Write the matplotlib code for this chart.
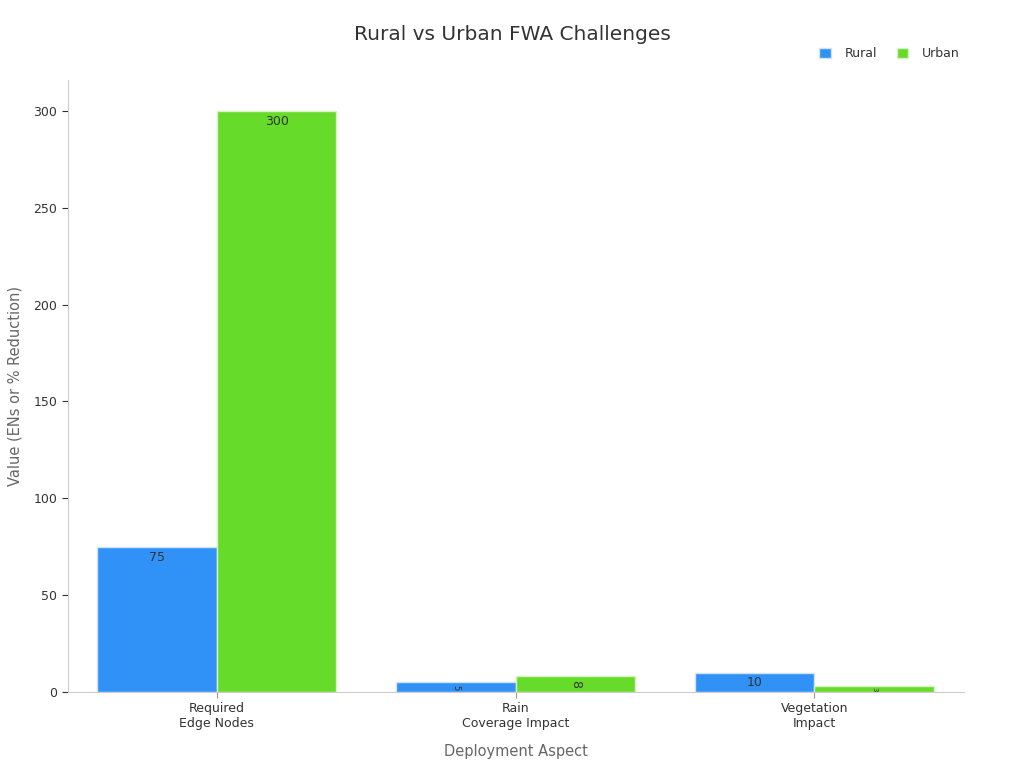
import numpy as np
import matplotlib.pyplot as plt

# data
categories = ['Required\nEdge Nodes', 'Rain\nCoverage Impact', 'Vegetation\nImpact']
rural = [75, 5, 10]
urban = [300, 8, 3]

blue = '#3091F7'
green = '#67DB29'

fig = plt.figure(figsize=(10.24, 7.68), dpi=100)
ax = fig.add_axes([0.066, 0.099, 0.875, 0.797])

x = np.arange(len(categories))
w = 0.4
b1 = ax.bar(x - w / 2, rural, w, color=blue, edgecolor='#cfe3fb', linewidth=1, label='Rural')
b2 = ax.bar(x + w / 2, urban, w, color=green, edgecolor='#d5f3c4', linewidth=1, label='Urban')

# value labels inside the bars, rotated when the bar is too short
for bars in (b1, b2):
    for r in bars:
        v = r.get_height()
        cx = r.get_x() + r.get_width() / 2
        if v >= 10:
            ax.text(cx, v - 2, f'{v:g}', ha='center', va='top', fontsize=9, color='#333333')
        else:
            ax.text(cx, v / 2, f'{v:g}', ha='center', va='center', fontsize=max(5, v + 1),
                    rotation=-90, color='#333333')

ax.set_xlim(-0.5, 2.5)
ax.set_ylim(0, 316)
ax.set_xticks(x)
ax.set_xticklabels(categories, fontsize=9, color='#333333')
ax.set_yticks([0, 50, 100, 150, 200, 250, 300])
ax.tick_params(axis='y', labelsize=9, colors='#333333', length=4)
ax.tick_params(axis='x', length=4, color='#999999')

for s in ('top', 'right'):
    ax.spines[s].set_visible(False)
ax.spines['left'].set_color('#cccccc')
ax.spines['bottom'].set_color('#cccccc')

ax.set_ylabel('Value (ENs or % Reduction)', fontsize=10.5, color='#666666', labelpad=8)
ax.set_xlabel('Deployment Aspect', fontsize=10.5, color='#666666', labelpad=10)

fig.suptitle('Rural vs Urban FWA Challenges', fontsize=14.5, color='#333333', y=0.968)
ax.legend(loc='upper right', bbox_to_anchor=(1.008, 1.072), ncol=2, frameon=False,
          fontsize=9, handlelength=0.9, handleheight=0.9, columnspacing=1.6, handletextpad=1.1,
          labelcolor='#333333')

plt.savefig('out.png', dpi=100)
